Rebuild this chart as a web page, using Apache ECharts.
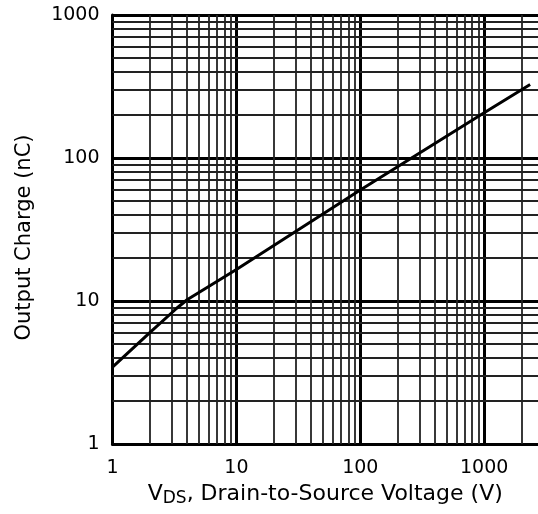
<!DOCTYPE html>
<html>
<head>
<meta charset="utf-8">
<script src="https://cdn.jsdelivr.net/npm/echarts@6/dist/echarts.min.js"></script>
<style>
  html, body { margin: 0; padding: 0; background: #fff; }
  #chart { width: 538px; height: 514px; }
</style>
</head>
<body>
<div id="chart"></div>
<script>
// Data (V_DS in volts, output charge in nC)
var vdsValues = [1, 2, 3.3, 4, 10, 100, 1000, 2350];
var chargeValues = [3.45, 6.0, 8.9, 10.2, 16.6, 59.7, 207, 327];
var xTickLabels = [1, 10, 100, 1000];
var yTickLabels = [1, 10, 100, 1000];
var xMinorGrid = [2,3,4,5,6,7,8,9,20,30,40,50,60,70,80,90,200,300,400,500,600,700,800,900,2000];
var yMinorGrid = [2,3,4,5,6,7,8,9,20,30,40,50,60,70,80,90,200,300,400,500,600,700,800,900];

var font = 'DejaVu Sans, Verdana, sans-serif';
var seriesData = vdsValues.map(function (v, i) { return [v, chargeValues[i]]; });

var minorLines = [];
xMinorGrid.forEach(function (v) { minorLines.push({ xAxis: v }); });
yMinorGrid.forEach(function (v) { minorLines.push({ yAxis: v }); });

function isTick(list, v) {
  for (var i = 0; i < list.length; i++) {
    if (Math.abs(list[i] - v) < 1e-6 * list[i]) return true;
  }
  return false;
}

var chart = echarts.init(document.getElementById('chart'), null, { renderer: 'canvas' });
chart.setOption({
  animation: false,
  backgroundColor: '#fff',
  grid: { left: 112.5, right: 0, top: 15, bottom: 70 },
  xAxis: {
    type: 'log',
    logBase: 10,
    min: 1,
    max: 2720,
    name: '{a|V}{sub|DS}{a|, Drain-to-Source Voltage (V)}',
    nameLocation: 'middle',
    nameGap: 36,
    nameTextStyle: {
      rich: {
        a: { fontFamily: font, fontSize: 22, color: '#000', lineHeight: 27 },
        sub: { fontFamily: font, fontSize: 17, color: '#000', lineHeight: 16, verticalAlign: 'bottom' }
      }
    },
    axisLine: { show: true, onZero: false, lineStyle: { color: '#000', width: 3 } },
    axisTick: { show: false },
    axisLabel: {
      fontFamily: font, fontSize: 19, color: '#000', margin: 15,
      showMaxLabel: false,
      formatter: function (v) { return isTick(xTickLabels, v) ? String(Math.round(v)) : ''; }
    },
    splitLine: { show: true, showMaxLine: false, lineStyle: { color: '#000', width: 3 } }
  },
  yAxis: {
    type: 'log',
    logBase: 10,
    min: 1,
    max: 1000,
    name: 'Output Charge (nC)',
    nameLocation: 'middle',
    nameGap: 77,
    nameTextStyle: { fontFamily: font, fontSize: 21, color: '#000', padding: [0, 16, 0, 0] },
    axisLine: { show: true, onZero: false, lineStyle: { color: '#000', width: 3 } },
    axisTick: { show: false },
    axisLabel: {
      fontFamily: font, fontSize: 19, color: '#000', margin: 13, padding: [4, 0, 0, 0],
      formatter: function (v) { return isTick(yTickLabels, v) ? String(Math.round(v)) : ''; }
    },
    splitLine: { show: true, lineStyle: { color: '#000', width: 3 } }
  },
  series: [
    {
      type: 'line',
      z: 1,
      silent: true,
      data: seriesData,
      symbol: 'none',
      lineStyle: { opacity: 0 },
      markLine: {
        silent: true,
        symbol: ['none', 'none'],
        label: { show: false },
        lineStyle: { color: '#222', width: 1.8, type: 'solid' },
        emphasis: { disabled: true },
        data: minorLines
      }
    },
    {
      type: 'line',
      z: 5,
      data: seriesData,
      symbol: 'none',
      smooth: false,
      lineStyle: { color: '#000', width: 3 }
    }
  ]
});
</script>
</body>
</html>
